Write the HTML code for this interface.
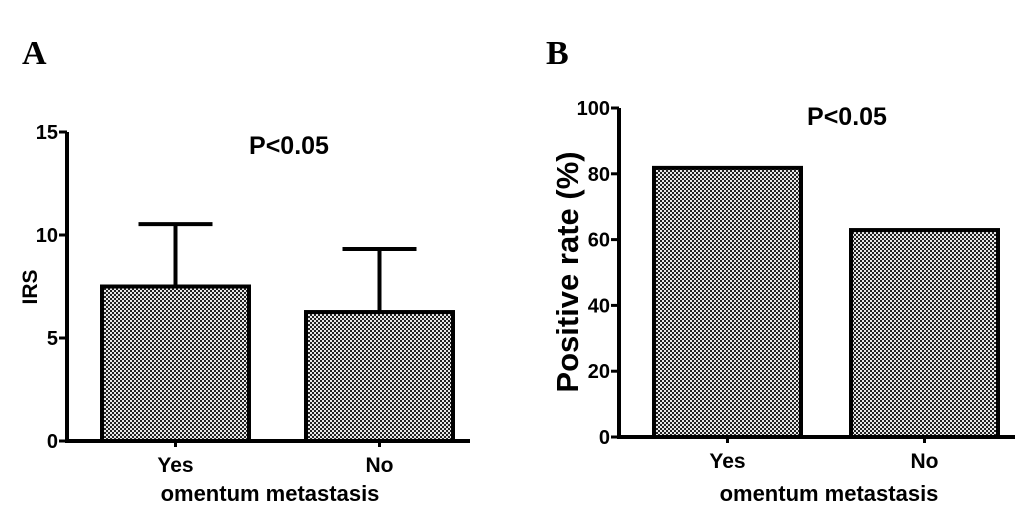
<!DOCTYPE html>
<html><head><meta charset="utf-8"><style>
body{margin:0;background:#fff;}
svg{display:block;font-family:"Liberation Sans",Arial,sans-serif;font-weight:bold;}
</style></head><body>
<svg width="1033" height="524" viewBox="0 0 1033 524">
<defs>
<pattern id="chk" width="4" height="4" patternUnits="userSpaceOnUse">
<rect width="4" height="4" fill="#e8e8e8"/>
<rect width="2" height="2" fill="#222"/>
<rect x="2" y="2" width="2" height="2" fill="#222"/>
</pattern>
</defs>
<text x="22" y="64" font-family="Liberation Serif,serif" font-size="34">A</text>
<text x="546" y="64" font-family="Liberation Serif,serif" font-size="34">B</text>
<g id="ca"></g>
<g id="cb"></g>
</svg>
<script>
const catsA = ["Yes","No"];
const valsA = [7.5, 6.26];
const errA = [10.53, 9.32];
const ticksA = [0,5,10,15];
const catsB = ["Yes","No"];
const valsB = [81.8, 62.9];
const ticksB = [0,20,40,60,80,100];
const NS="http://www.w3.org/2000/svg";
function mk(p,t,a){const e=document.createElementNS(NS,t);for(const k in a)e.setAttribute(k,a[k]);p.appendChild(e);return e;}
function chart(g,o){
  const y=v=>o.y0-(v-o.min)/(o.max-o.min)*(o.y0-o.y1);
  o.cats.forEach((c,i)=>{
    const cx=o.bx[i]+o.bw/2;
    const b=mk(g,'rect',{x:o.bx[i],y:y(o.vals[i]),width:o.bw,height:o.y0-y(o.vals[i]),fill:'url(#chk)',stroke:'#000','stroke-width':4});
    
    
    if(o.err){
      const l=mk(g,'line',{x1:cx,x2:cx,y1:y(o.vals[i]),y2:y(o.err[i]),stroke:'#000','stroke-width':4});
      
      
      const cp=mk(g,'line',{x1:cx-37,x2:cx+37,y1:y(o.err[i]),y2:y(o.err[i]),stroke:'#000','stroke-width':4});
      
      
    }
    mk(g,'line',{x1:cx,x2:cx,y1:o.y0,y2:o.y0+6,stroke:'#000','stroke-width':3});
    const t=mk(g,'text',{x:cx,y:o.y0+31,'text-anchor':'middle','font-size':21});
    t.textContent=c;
    
    
  });
  const ax=mk(g,'path',{d:`M${o.ax},${o.y1} V${o.y0} H${o.xe}`,fill:'none',stroke:'#000','stroke-width':4});
  
  
  o.ticks.forEach(v=>{
    mk(g,'line',{x1:o.ax-8,x2:o.ax,y1:y(v),y2:y(v),stroke:'#000','stroke-width':3});
    const t=mk(g,'text',{x:o.ax-9,y:y(v)+7,'text-anchor':'end','font-size':20});
    t.textContent=v;
    
    
  });
}
const ga=document.getElementById('ca'), gb=document.getElementById('cb');
chart(ga,{cats:catsA,vals:valsA,err:errA,ticks:ticksA,min:0,max:15,y0:441,y1:132,ax:67,xe:470,bx:[102,306],bw:147});
chart(gb,{cats:catsB,vals:valsB,ticks:ticksB,min:0,max:100,y0:437,y1:108,ax:619,xe:1015,bx:[654,851],bw:147});
function txt(g,s,a,name){const t=mk(g,'text',a);t.textContent=s;return t;}
txt(ga,'P<0.05',{x:289,y:154,'text-anchor':'middle','font-size':25},'p-value-a');
txt(ga,'IRS',{x:0,y:0,'text-anchor':'middle','font-size':21,transform:'translate(37,287) rotate(-90)'},'y-axis-title-a');
txt(ga,'omentum metastasis',{x:270,y:501,'text-anchor':'middle','font-size':22},'x-axis-title-a');
txt(gb,'P<0.05',{x:847,y:125,'text-anchor':'middle','font-size':25},'p-value-b');
txt(gb,'Positive rate (%)',{x:0,y:0,'text-anchor':'middle','font-size':31,transform:'translate(578,272) rotate(-90)'},'y-axis-title-b');
txt(gb,'omentum metastasis',{x:829,y:501,'text-anchor':'middle','font-size':22},'x-axis-title-b');
</script>
</body></html>
